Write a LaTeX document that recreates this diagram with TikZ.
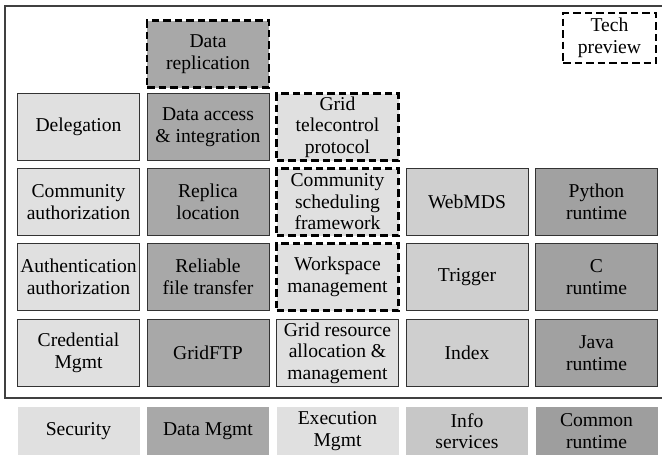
\documentclass[tikz,border=0pt]{standalone}
\usepackage{fontspec}
\setmainfont{Liberation Serif}
\usetikzlibrary{positioning}
\definecolor{secgray}{gray}{0.88}
\definecolor{datagray}{gray}{0.66}
\definecolor{infogray}{gray}{0.81}
\definecolor{rungray}{gray}{0.63}

\begin{document}
\begin{tikzpicture}[x=1pt,y=-1pt,
        font=\rmfamily\fontsize{19.6}{21.5}\selectfont,
        box/.style={draw=black!80,line width=0.8pt,minimum width=122pt,minimum height=67pt,inner sep=0pt,align=center},
        preview/.style={box,draw=black,line width=2.6pt,dash pattern=on 7.5pt off 4pt},
        key/.style={minimum width=122pt,minimum height=48pt,inner sep=0pt,align=center}]
            \useasboundingbox (0,0) rectangle (662,455);
            \draw[line width=1.3pt,black!75] (663,6) -- (5,6) -- (5,398) -- (663,398);
            % security
            \node[box,fill=secgray] (deleg) at (78.5,127) {Delegation};
            \node[box,fill=secgray] (commauth) at (78.5,202) {Community\\authorization};
            \node[box,fill=secgray] (authn) at (78.5,277) {Authentication\\authorization};
            \node[box,fill=secgray] (cred) at (78.5,353) {Credential\\Mgmt};
            % data
            \node[preview,fill=datagray] (datarep) at (208,54) {Data\\replication};
            \node[box,fill=datagray] (dai) at (208,127) {Data access\\\& integration};
            \node[box,fill=datagray] (replica) at (208,202) {Replica\\location};
            \node[box,fill=datagray] (rft) at (208,277) {Reliable\\file transfer};
            \node[box,fill=datagray] (gridftp) at (208,353) {GridFTP};
            % execution
            \node[preview,fill=secgray] (telectl) at (337.5,127) {Grid\\telecontrol\\protocol};
            \node[preview,fill=secgray] (csf) at (337.5,202) {Community\\scheduling\\framework};
            \node[preview,fill=secgray] (workspace) at (337.5,277) {Workspace\\management};
            \node[box,fill=secgray] (gram) at (337.5,353) {Grid resource\\allocation \&\\management};
            % info
            \node[box,fill=infogray] (webmds) at (467,202) {WebMDS};
            \node[box,fill=infogray] (trigger) at (467,277) {Trigger};
            \node[box,fill=infogray] (index) at (467,353) {Index};
            % runtime
            \node[box,fill=rungray] (python) at (596.5,202) {Python\\runtime};
            \node[box,fill=rungray] (cruntime) at (596.5,277) {C\\runtime};
            \node[box,fill=rungray] (java) at (596.5,353) {Java\\runtime};
            % legend
            \node[preview,fill=white,minimum width=93pt,minimum height=50pt] (tech) at (609.5,38) {Tech\\preview};
            \node[key,fill=secgray] (ksec) at (78.5,431) {Security};
            \node[key,fill=datagray] (kdata) at (208,431) {Data Mgmt};
            \node[key,fill=secgray] (kexec) at (337.5,431) {Execution\\Mgmt};
            \node[key,fill=black!22] (kinfo) at (467,431) {Info\\services};
            \node[key,fill=black!38] (krun) at (596.5,431) {Common\\runtime};
        \end{tikzpicture}
\end{document}
